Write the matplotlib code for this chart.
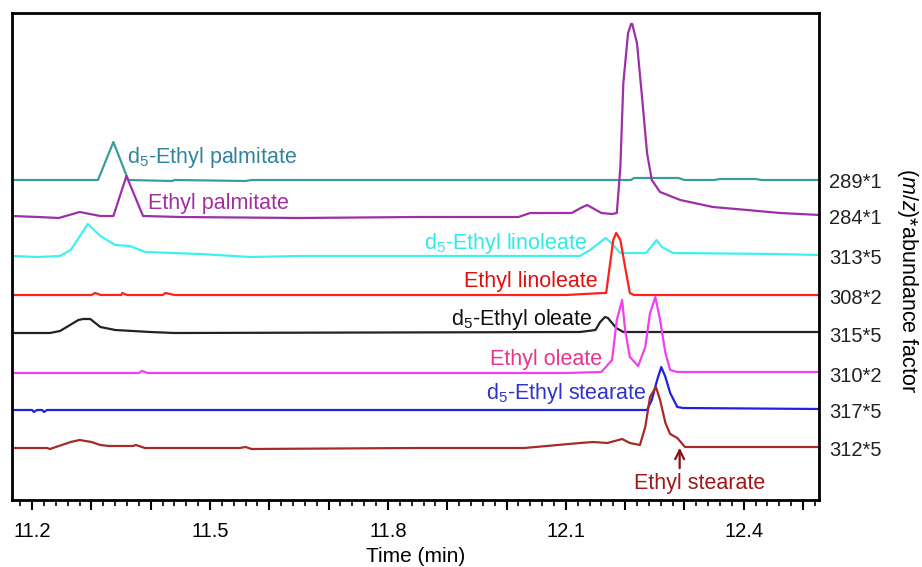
import matplotlib
matplotlib.use("Agg")
import matplotlib.pyplot as plt
from matplotlib.ticker import MultipleLocator, FuncFormatter
from matplotlib.transforms import blended_transform_factory

plt.rcParams["font.family"] = ["Liberation Sans", "DejaVu Sans"]
plt.rcParams["mathtext.fontset"] = "custom"
plt.rcParams["mathtext.rm"] = "Liberation Sans"
plt.rcParams["mathtext.it"] = "Liberation Sans:italic"

# traces: time (min) and stacked signal (display units)
t_289 = [11.166, 11.311, 11.337, 11.362, 11.436, 11.44, 11.56, 11.57, 12.21, 12.215,
         12.29, 12.30, 12.35, 12.36, 12.42, 12.43, 12.529]
y_289 = [320, 320, 358, 320, 319, 320, 319, 320, 320, 322,
         322, 320, 320, 321, 321, 320, 320]

t_284 = [11.166, 11.21, 11.245, 11.28, 11.315, 11.337, 11.359, 11.387, 11.45, 11.65,
         11.85, 12.02, 12.04, 12.11, 12.125, 12.136, 12.145, 12.16, 12.178, 12.186,
         12.192, 12.197, 12.205, 12.210, 12.212, 12.220, 12.229, 12.237, 12.245, 12.259,
         12.293, 12.348, 12.406, 12.461, 12.529]
y_284 = [284, 283, 282, 288, 284, 284, 324, 284, 283, 282,
         283, 283, 287, 287, 292, 295, 292, 287, 286, 287,
         333, 417, 467, 476, 476, 457, 400, 347, 320, 308,
         300, 293, 290, 287, 285]

t_313 = [11.166, 11.21, 11.247, 11.265, 11.294, 11.315, 11.34, 11.365, 11.391, 11.483,
         11.568, 11.652, 12.124, 12.141, 12.167, 12.175, 12.192, 12.235, 12.244, 12.253,
         12.262, 12.281, 12.45, 12.529]
y_313 = [244, 243, 244, 250, 276, 264, 255, 254, 248, 246,
         243, 244, 244, 250, 262, 258, 247, 247, 253, 260,
         253, 247, 246, 245]

t_308 = [11.166, 11.30, 11.306, 11.316, 11.35, 11.352, 11.36, 11.42, 11.425, 11.44,
         12.10, 12.163, 12.168, 12.180, 12.185, 12.192, 12.200, 12.208, 12.215, 12.529]
y_308 = [205, 205, 207, 205, 205, 207, 205, 205, 207, 205,
         205, 207, 207, 260, 267, 260, 233, 207, 205, 205]

t_315 = [11.166, 11.23, 11.247, 11.278, 11.286, 11.298, 11.315, 11.34, 11.399, 11.44,
         12.124, 12.15, 12.158, 12.166, 12.171, 12.185, 12.197, 12.529]
y_315 = [167, 167, 169, 180, 181, 181, 173, 170, 168, 167,
         168, 170, 178, 183, 182, 172, 168, 168]

t_310 = [11.166, 11.38, 11.385, 11.395, 12.10, 12.16, 12.178, 12.186, 12.195, 12.20,
         12.208, 12.222, 12.234, 12.242, 12.251, 12.259, 12.268, 12.276, 12.288, 12.529]
y_310 = [127, 127, 129, 127, 127, 128, 140, 180, 200, 170,
         143, 134, 153, 187, 203, 180, 147, 130, 128, 128]

t_317 = [11.166, 11.20, 11.203, 11.208, 11.217, 11.22, 11.225, 12.237, 12.245, 12.254,
         12.261, 12.268, 12.276, 12.288, 12.298, 12.529]
y_317 = [90, 90, 88, 90, 90, 88, 90, 90, 100, 120,
         133, 123, 107, 93, 92, 91]

t_312 = [11.166, 11.225, 11.23, 11.24, 11.265, 11.28, 11.30, 11.315, 11.33, 11.37,
         11.375, 11.39, 11.55, 11.56, 11.57, 11.85, 12.03, 12.124, 12.146, 12.17,
         12.195, 12.208, 12.225, 12.234, 12.242, 12.252, 12.259, 12.268, 12.276, 12.288,
         12.301, 12.529]
y_312 = [52, 52, 51, 53, 58, 60, 58, 55, 54, 54,
         55, 52, 52, 53, 51, 52, 52, 57, 58, 57,
         61, 57, 55, 73, 103, 113, 100, 77, 66, 62,
         53, 53]

ion_labels = ["289*1", "284*1", "313*5", "308*2", "315*5", "310*2", "317*5", "312*5"]
baselines = [320, 285, 244, 205, 167, 127, 90, 52]

traces = [
    (t_289, y_289, "#3a9c9c"),
    (t_284, y_284, "#9b30a8"),
    (t_313, y_313, "#40f0f0"),
    (t_308, y_308, "#ff2020"),
    (t_315, y_315, "#222222"),
    (t_310, y_310, "#f040f0"),
    (t_317, y_317, "#2020e0"),
    (t_312, y_312, "#a52a2a"),
]

# compound names: (text, x, y, ha, colour)
names = [
    (r"d$_5$-Ethyl palmitate", 11.360, 343, "left", "#31849b"),
    ("Ethyl palmitate", 11.396, 297, "left", "#a030a0"),
    (r"d$_5$-Ethyl linoleate", 12.136, 257, "right", "#30e8e8"),
    ("Ethyl linoleate", 12.153, 218, "right", "#e01010"),
    (r"d$_5$-Ethyl oleate", 12.146, 180, "right", "#111111"),
    ("Ethyl oleate", 12.161, 141, "right", "#e8348c"),
    (r"d$_5$-Ethyl stearate", 12.237, 106, "right", "#3333cc"),
]

fig = plt.figure(figsize=(9.22, 5.67), dpi=100)
ax = fig.add_axes([12 / 922, 67 / 567, 807 / 922, 487 / 567])

for t, y, c in traces:
    ax.plot(t, y, color=c, linewidth=1.6)

for txt, x, y, ha, c in names:
    ax.text(x, y, txt, ha=ha, va="center", fontsize=15.5, color=c)

ax.annotate("", xy=(12.292, 55), xytext=(12.292, 29),
            arrowprops=dict(arrowstyle="->", color="#8b1010", lw=1.6,
                            mutation_scale=16))
ax.text(12.3265, 17, "Ethyl stearate", ha="center", va="center",
        fontsize=15.5, color="#a01818")

trans = blended_transform_factory(ax.transAxes, ax.transData)
for lbl, b in zip(ion_labels, baselines):
    ax.text(1.013, b - 3, lbl, transform=trans, ha="left", va="center",
            fontsize=14.5, color="#222222")

fig.text(0.984, 0.505, r"($m/z$)*abundance factor", rotation=270,
         ha="center", va="center", fontsize=15.5)

ax.set_xlim(11.166, 12.527)
ax.set_ylim(0, 487)
ax.set_yticks([])
ax.xaxis.set_major_locator(MultipleLocator(0.1))
ax.xaxis.set_minor_locator(MultipleLocator(0.02))
shown = [11.2, 11.5, 11.8, 12.1, 12.4]
ax.xaxis.set_major_formatter(FuncFormatter(
    lambda v, p: f"{v:.1f}" if any(abs(v - s) < 1e-6 for s in shown) else ""))
ax.tick_params(axis="x", which="major", length=7, width=1.5, labelsize=14.5, pad=9)
ax.tick_params(axis="x", which="minor", length=4, width=1.2)
for s in ax.spines.values():
    s.set_linewidth(2)
ax.set_xlabel("Time (min)", fontsize=15, labelpad=4)

fig.savefig("out.png", dpi=100)
